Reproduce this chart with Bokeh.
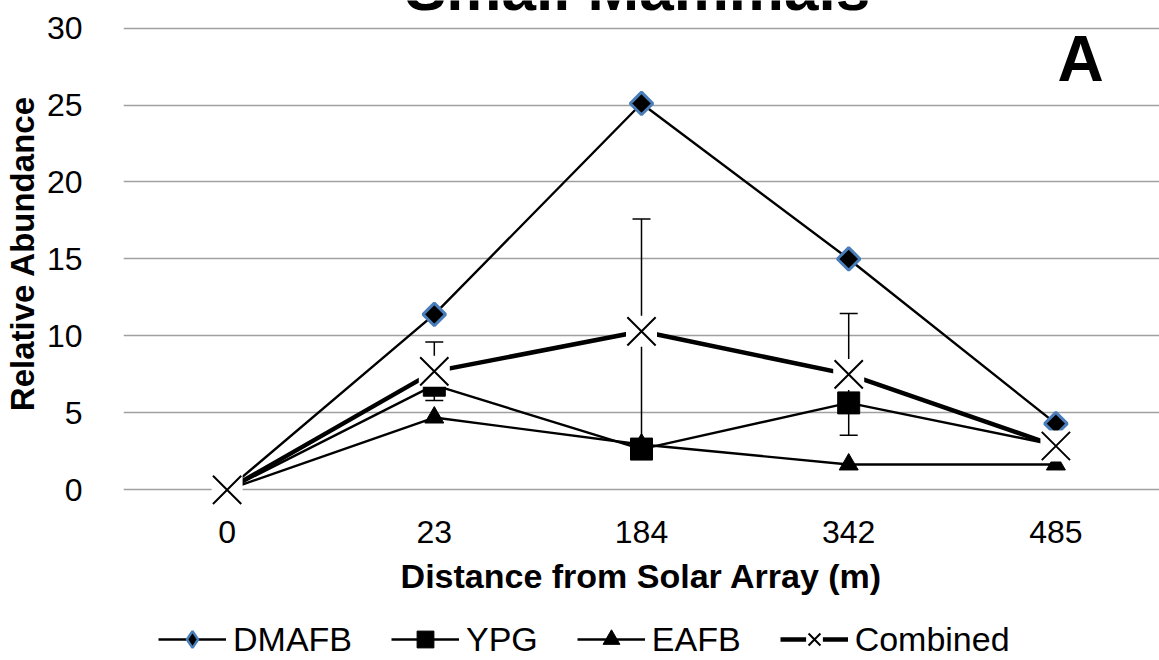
import math

from bokeh.embed import file_html
from bokeh.layouts import column
from bokeh.models import (ColumnDataSource, FactorRange, FixedTicker, Label,
                          Legend, LegendItem, Range1d, TeeHead, Whisker)
from bokeh.plotting import figure
from bokeh.resources import INLINE

# Distance classes from the solar array (m)
distances = ["0", "23", "184", "342", "485"]

# Relative abundance of small mammals per site
dmafb = [0.0, 11.4, 25.1, 15.0, 4.3]
ypg = [0.0, 6.8, 2.65, 5.65, 2.9]
eafb = [0.0, 4.7, 2.95, 1.65, 1.65]
combined = [0.0, 7.7, 10.3, 7.5, 2.85]
combined_err = [0.0, 1.9, 7.3, 3.95, 0.8]

y_ticks = [0, 5, 10, 15, 20, 25, 30]

FONT = "Liberation Sans"
W = 1159
H_MAIN = 610
H_KEY = 50

src = ColumnDataSource(dict(
    x=distances,
    dmafb=dmafb,
    ypg=ypg,
    eafb=eafb,
    combined=combined,
    upper=[c + e for c, e in zip(combined, combined_err)],
    lower=[c - e for c, e in zip(combined, combined_err)],
))


def draw_series(fig, in_key=False):
    """Draws the four series on fig and returns the renderers for the key."""
    d_line = fig.line("x", "dmafb", source=src, line_color="black", line_width=2.4)
    if in_key:
        d_mark = fig.scatter("x", "dmafb", source=src, marker="diamond", size=20,
                             fill_color="black", line_color="#4a7ebb", line_width=2.5)
    else:
        d_mark = fig.scatter("x", "dmafb", source=src, marker="square", angle=math.pi / 4,
                             size=16, fill_color="black", line_color="#4a7ebb", line_width=3)

    y_line = fig.line("x", "ypg", source=src, line_color="black", line_width=2.4)
    y_mark = fig.scatter("x", "ypg", source=src, marker="square", size=22,
                         fill_color="black", line_color="black")

    e_line = fig.line("x", "eafb", source=src, line_color="black", line_width=2.4)
    e_mark = fig.scatter("x", "eafb", source=src, marker="triangle", size=19,
                         fill_color="black", line_color="black")

    # Combined series: thick line, X markers on a white box
    c_line = fig.line("x", "combined", source=src, line_color="black", line_width=4.5)
    c_box = fig.scatter("x", "combined", source=src, marker="square", size=31,
                        fill_color="white", line_color=None)
    c_mark = fig.scatter("x", "combined", source=src, marker="x", size=40,
                         line_color="black", line_width=2)
    return [
        ("DMAFB", [d_line, d_mark]),
        ("YPG", [y_line, y_mark]),
        ("EAFB", [e_line, e_mark]),
        ("Combined", [c_line, c_box, c_mark]),
    ]


p = figure(
    width=W, height=H_MAIN,
    x_range=FactorRange(factors=distances),
    y_range=Range1d(-1.08, 31.79),
    output_backend="svg", toolbar_location=None,
    min_border_left=122, min_border_right=0,
    min_border_top=0, min_border_bottom=H_MAIN - 506,
)
p.outline_line_color = None
p.background_fill_color = "white"
p.border_fill_color = "white"

# Axes
p.xaxis.axis_line_color = None
p.xaxis.major_tick_line_color = None
p.xaxis.minor_tick_line_color = None
p.xaxis.major_label_standoff = 8
p.xaxis.major_label_text_font = FONT
p.xaxis.major_label_text_font_size = "32px"
p.xaxis.major_label_text_color = "black"
p.xaxis.axis_label = "Distance from Solar Array (m)"
p.xaxis.axis_label_text_font = FONT
p.xaxis.axis_label_text_font_style = "bold"
p.xaxis.axis_label_text_font_size = "34px"
p.xaxis.axis_label_text_color = "black"
p.xaxis.axis_label_standoff = 11

p.yaxis.ticker = FixedTicker(ticks=y_ticks)
p.yaxis.axis_line_color = None
p.yaxis.major_tick_line_color = None
p.yaxis.minor_tick_line_color = None
p.yaxis.major_label_standoff = 35
p.yaxis.major_label_text_font = FONT
p.yaxis.major_label_text_font_size = "32px"
p.yaxis.major_label_text_color = "black"
p.yaxis.axis_label = "Relative Abundance"
p.yaxis.axis_label_text_font = FONT
p.yaxis.axis_label_text_font_style = "bold"
p.yaxis.axis_label_text_font_size = "33px"
p.yaxis.axis_label_text_color = "black"
p.yaxis.axis_label_standoff = 3

p.xgrid.grid_line_color = None
p.ygrid.grid_line_color = "#a0a0a0"
p.ygrid.grid_line_width = 1.6

# Standard error bars on the combined series, painted beneath the markers
err = Whisker(
    source=src, base="x", upper="upper", lower="lower",
    line_color="black", line_width=1.5, level="underlay",
    upper_head=TeeHead(size=18, line_color="black", line_width=1.5),
    lower_head=TeeHead(size=18, line_color="black", line_width=1.5),
)
p.add_layout(err)

draw_series(p)

title = Label(x=2.481, y=30.36, text="Small Mammals",
              text_align="center", text_baseline="bottom",
              text_font=FONT, text_font_style="bold", text_font_size="62px",
              text_color="black")
p.add_layout(title)

panel = Label(x=4.619, y=27.97, text="A",
              text_align="center", text_baseline="alphabetic",
              text_font=FONT, text_font_style="bold", text_font_size="64px",
              text_color="black")
p.add_layout(panel)

# Key strip under the chart; its series sit outside its y range, only the key shows
key = figure(
    width=W, height=H_KEY,
    x_range=FactorRange(factors=distances),
    y_range=Range1d(1000, 1001),
    output_backend="svg", toolbar_location=None,
    x_axis_location=None, y_axis_location=None,
    min_border_left=0, min_border_right=0, min_border_top=0, min_border_bottom=0,
)
key.outline_line_color = None
key.grid.grid_line_color = None
key.background_fill_color = "white"
key.border_fill_color = "white"

items = [LegendItem(label=name, renderers=rs) for name, rs in draw_series(key, in_key=True)]
legend = Legend(
    items=items,
    orientation="horizontal",
    location=(35, 0),
    glyph_width=68, glyph_height=42,
    label_standoff=7, spacing=39,
    padding=0, margin=0,
    border_line_color=None, background_fill_alpha=0,
    label_text_font=FONT, label_text_font_size="34px", label_text_color="black",
)
key.add_layout(legend)

layout = column(p, key, spacing=0)

open("out.html", "w").write(file_html(layout, INLINE))
